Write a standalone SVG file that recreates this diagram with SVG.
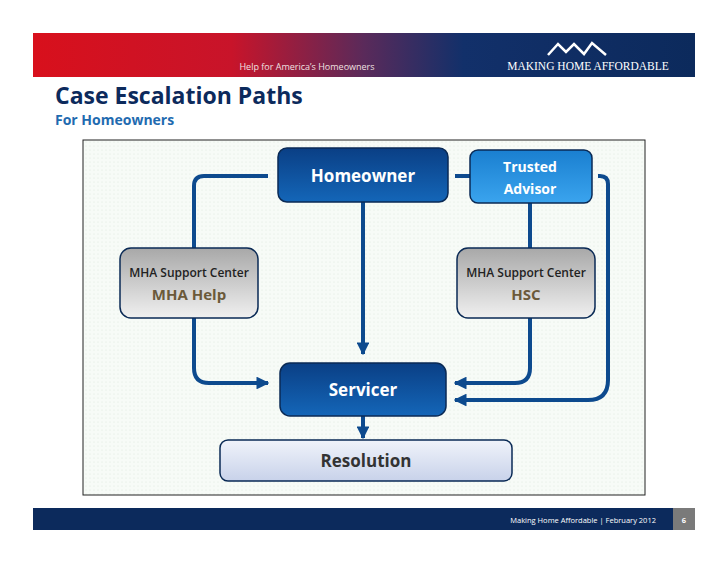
<svg xmlns="http://www.w3.org/2000/svg" width="728" height="563" viewBox="0 0 728 563">
<defs>
<linearGradient id="hdr" x1="0" x2="1" y1="0" y2="0"><stop offset="0" stop-color="#d8101c"/><stop offset="0.3" stop-color="#c8142a"/><stop offset="0.5" stop-color="#5a2a5a"/><stop offset="0.65" stop-color="#12306a"/><stop offset="1" stop-color="#0c2a5c"/></linearGradient>
<linearGradient id="dark" x1="0" x2="0" y1="0" y2="1"><stop offset="0" stop-color="#0a3f85"/><stop offset="1" stop-color="#1466b8"/></linearGradient>
<linearGradient id="light" x1="0" x2="0" y1="0" y2="1"><stop offset="0" stop-color="#1a7fd0"/><stop offset="1" stop-color="#3aa4ee"/></linearGradient>
<linearGradient id="gray" x1="0" x2="0" y1="0" y2="1"><stop offset="0" stop-color="#a8a8a8"/><stop offset="1" stop-color="#f0f0f0"/></linearGradient>
<linearGradient id="res" x1="0" x2="0" y1="0" y2="1"><stop offset="0" stop-color="#f0f3fa"/><stop offset="1" stop-color="#c8d2ea"/></linearGradient>
<pattern id="dots" width="4" height="4" patternUnits="userSpaceOnUse"><rect width="4" height="4" fill="#f7fbf7"/><circle cx="2" cy="2" r="0.6" fill="#dfe9df"/></pattern>
<marker id="ah" viewBox="0 0 10 10" refX="9" refY="5" markerWidth="3.2" markerHeight="3.2" orient="auto" markerUnits="strokeWidth"><path d="M0,0 L10,5 L0,10 z" fill="#0d4a8e"/></marker>
</defs>
<style>
.ln{fill:none;stroke:#0d4a8e;stroke-width:4}
.box{stroke:#0a2a55;stroke-width:1.5}
.t{font-family:"Open Sans","Liberation Sans",sans-serif;font-weight:bold;text-anchor:middle}
</style>
<rect width="728" height="563" fill="#fff"/>
<rect x="33" y="33" width="662" height="44" fill="url(#hdr)"/>
<text x="307" y="70" font-family="Open Sans,Liberation Sans,sans-serif" font-size="9" fill="#f0e0e0" text-anchor="middle">Help for America’s Homeowners</text>
<text x="588" y="70" font-family="Liberation Serif,serif" font-size="11.5" fill="#fff" text-anchor="middle">MAKING HOME AFFORDABLE</text>
<path d="M548,55 L558,44 L566,52 L574,44 L584,54 L592,43 L606,55" fill="none" stroke="#fff" stroke-width="2.5"/>
<text x="55" y="104" font-family="Open Sans,Liberation Sans,sans-serif" font-weight="bold" font-size="23" fill="#0c2a5c">Case Escalation Paths</text>
<text x="55" y="125" font-family="Open Sans,Liberation Sans,sans-serif" font-weight="bold" font-size="14" fill="#1f6bb0">For Homeowners</text>
<rect x="83" y="140" width="562" height="355" fill="url(#dots)" stroke="#222" stroke-width="1"/>
<g id="connectors">
<path class="ln" d="M268,176 H204 Q194,176 194,186 V368 Q194,383 209,383 H268" marker-end="url(#ah)"/>
<path class="ln" d="M363,202 V354" marker-end="url(#ah)"/>
<path class="ln" d="M455,176 H470"/>
<path class="ln" d="M530,203 V368 Q530,383 515,383 H455" marker-end="url(#ah)"/>
<path class="ln" d="M598,176 H600 Q608,176 608,184 V380 Q608,400 588,400 H455" marker-end="url(#ah)" stroke="#2d64a0"/>
<path class="ln" d="M363,416 V438" marker-end="url(#ah)"/>
</g>
<g id="homeowner"><rect class="box" x="278" y="148" width="170" height="54" rx="9" fill="url(#dark)"/><text class="t" x="363" y="182" font-size="17" fill="#fff">Homeowner</text></g>
<g id="trusted"><rect class="box" x="470" y="150" width="122" height="53" rx="8" fill="url(#light)"/><text class="t" x="530" y="172" font-size="14" fill="#fff">Trusted</text><text class="t" x="530" y="194" font-size="14" fill="#fff">Advisor</text></g>
<g id="mhahelp"><rect class="box" x="120" y="248" width="138" height="70" rx="11" fill="url(#gray)"/><text class="t" x="189" y="277" font-size="12" font-weight="normal" fill="#222" style="font-weight:600">MHA Support Center</text><text class="t" x="189" y="300" font-size="15" fill="#6b5a3a">MHA Help</text></g>
<g id="hsc"><rect class="box" x="457" y="248" width="138" height="70" rx="11" fill="url(#gray)"/><text class="t" x="526" y="277" font-size="12" fill="#222" style="font-weight:600">MHA Support Center</text><text class="t" x="526" y="300" font-size="15" fill="#6b5a3a">HSC</text></g>
<g id="servicer"><rect class="box" x="280" y="363" width="166" height="53" rx="10" fill="url(#dark)"/><text class="t" x="363" y="396" font-size="17" fill="#fff">Servicer</text></g>
<g id="resolution"><rect class="box" x="220" y="440" width="292" height="41" rx="8" fill="url(#res)"/><text class="t" x="366" y="467" font-size="17" fill="#333">Resolution</text></g>
<rect x="33" y="508" width="640" height="22" fill="#0c2a5c"/>
<rect x="673" y="508" width="22" height="22" fill="#7a7a7a"/>
<text x="656" y="523" font-family="Open Sans,Liberation Sans,sans-serif" font-size="7.5" fill="#fff" text-anchor="end">Making Home Affordable | February 2012</text>
<text x="684" y="523" font-family="Open Sans,Liberation Sans,sans-serif" font-size="7.5" font-weight="bold" fill="#fff" text-anchor="middle">6</text>
</svg>
